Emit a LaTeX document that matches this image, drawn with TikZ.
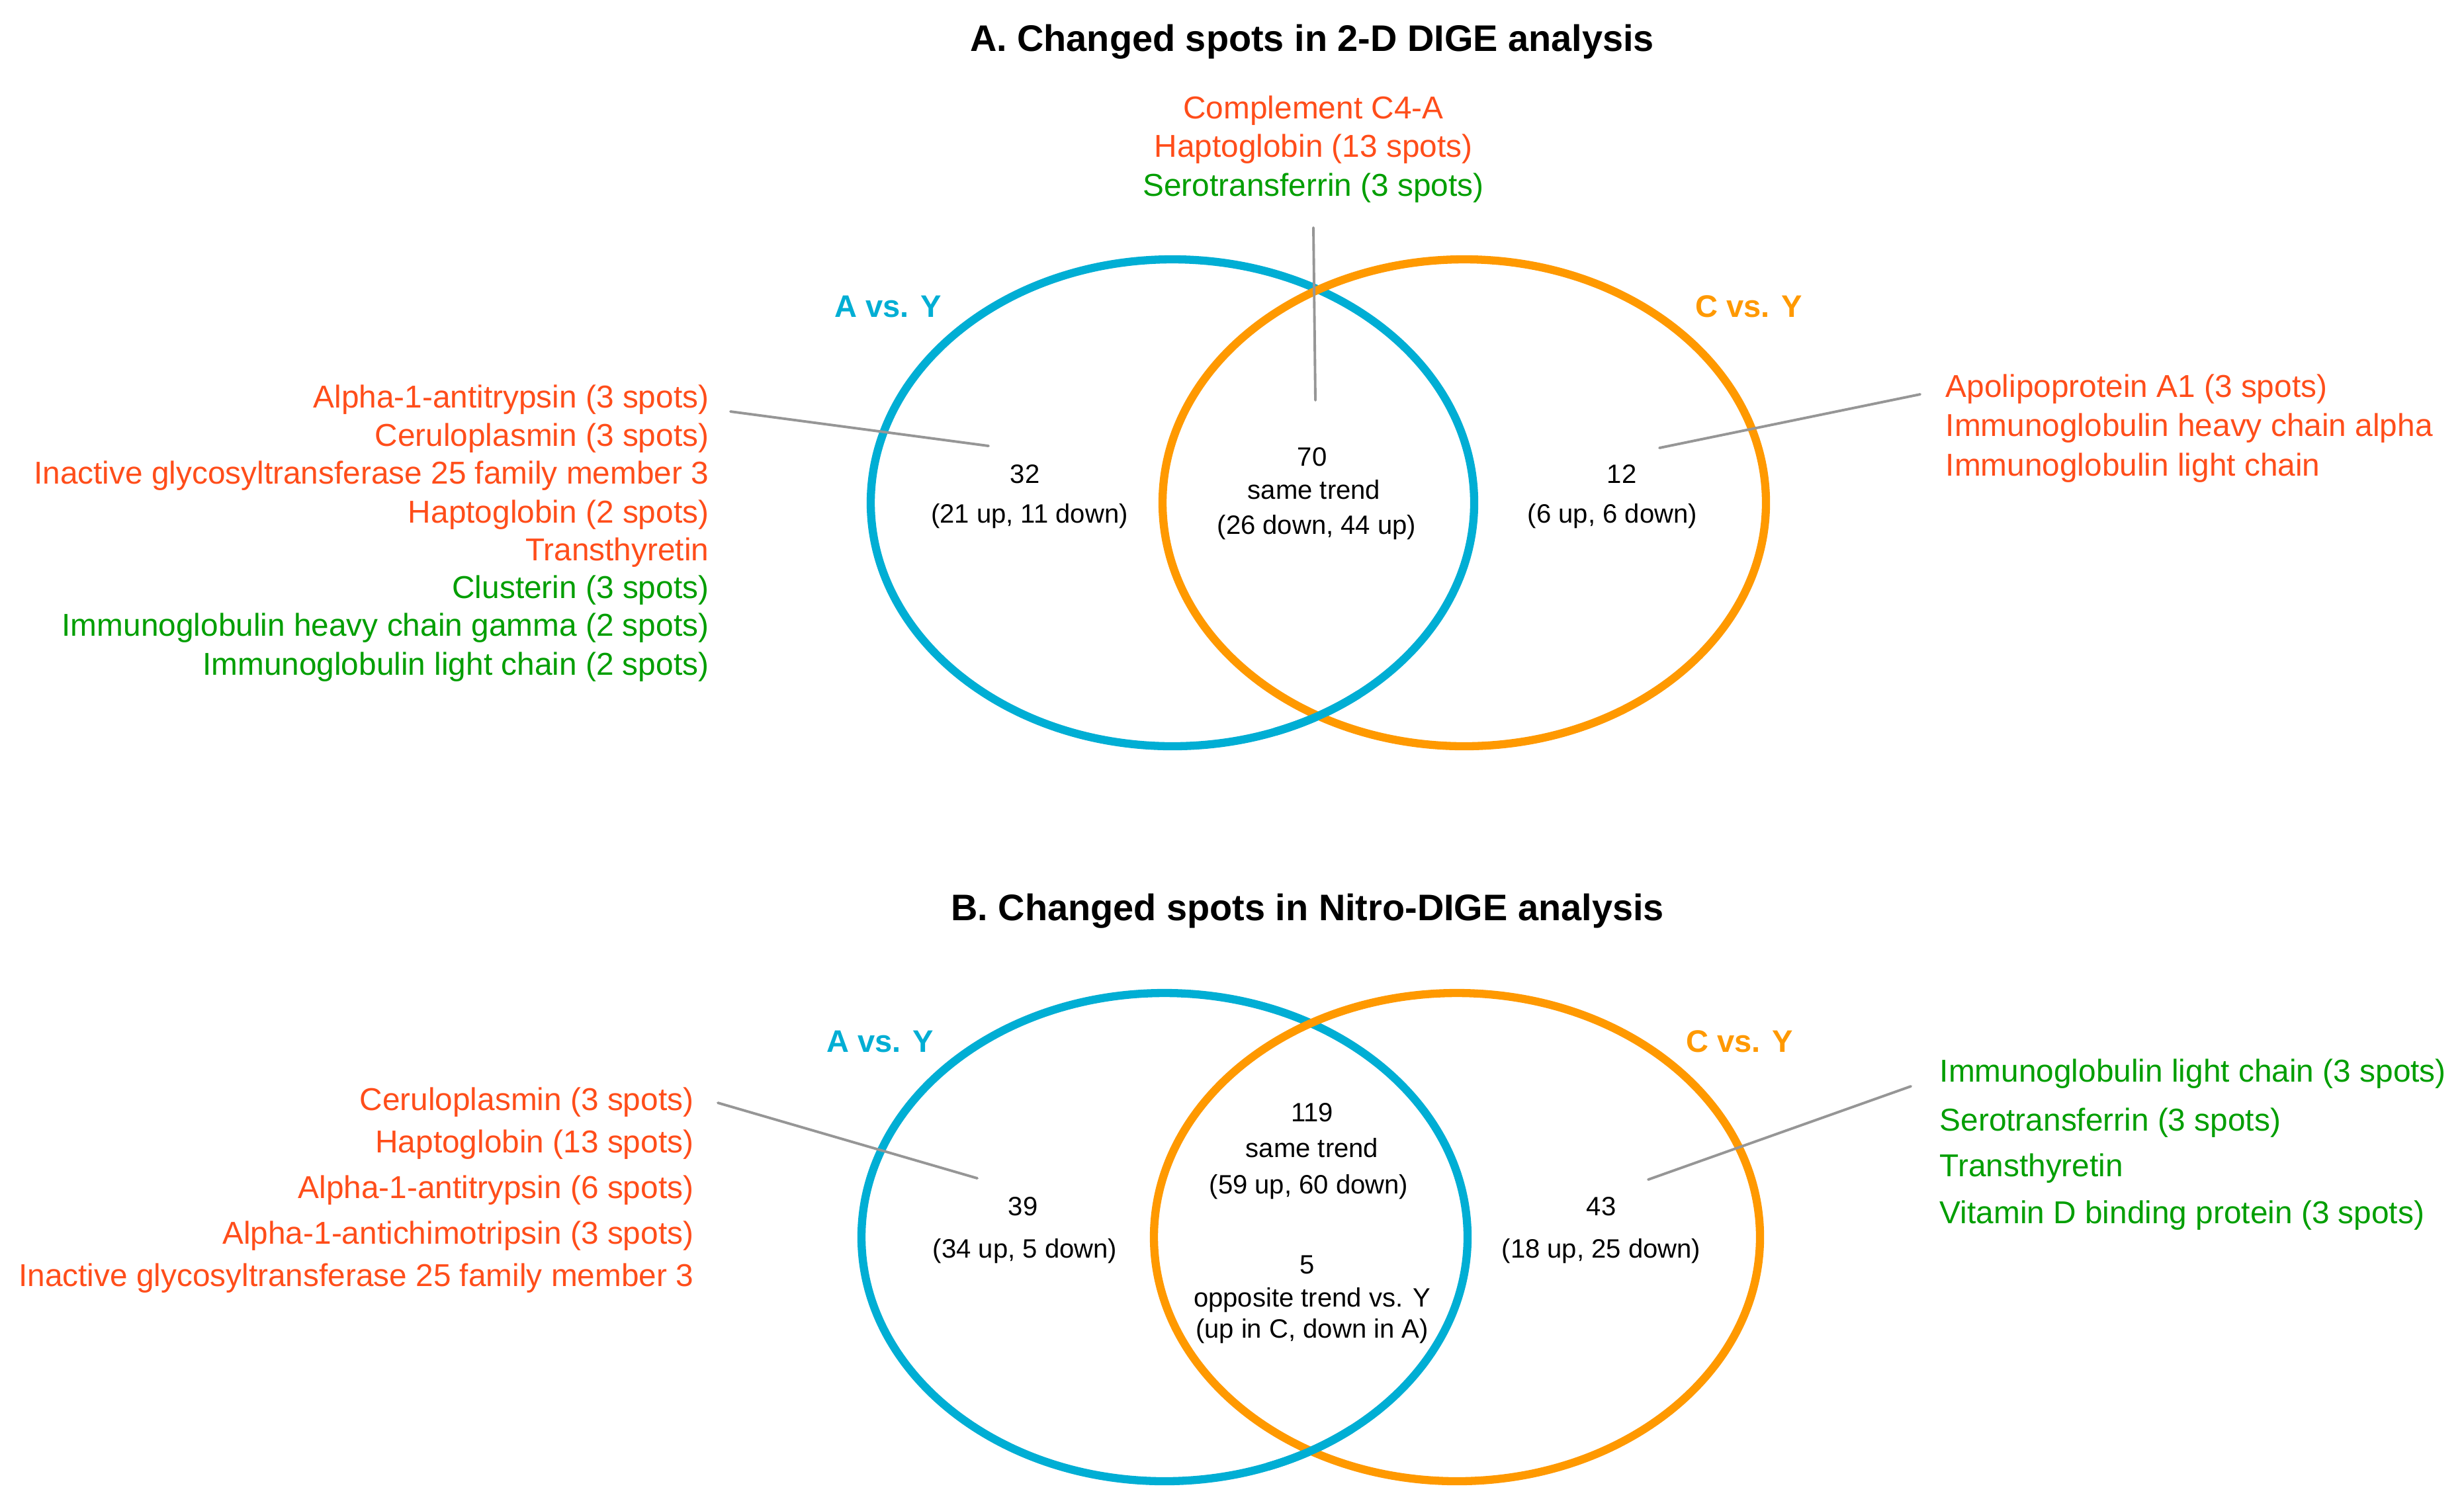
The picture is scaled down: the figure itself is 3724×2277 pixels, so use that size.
\documentclass[tikz,border=0pt]{standalone}
\usepackage{fontspec}
\setmainfont{Liberation Sans}
\definecolor{vennblue}{RGB}{0,174,212}
\definecolor{vennorange}{RGB}{255,153,0}
\definecolor{protred}{RGB}{255,77,26}
\definecolor{protgreen}{RGB}{0,158,0}
\definecolor{leadgrey}{RGB}{150,150,150}
\begin{document}
\begin{tikzpicture}[x=0.1mm,y=-0.1mm,line cap=round,
	every node/.style={text height=1.5ex,text depth=0.25ex,inner sep=0,yshift=-2pt},
	protR/.style={text=protred,font=\fontsize{13.6}{16}\selectfont},
	protG/.style={text=protgreen,font=\fontsize{13.6}{16}\selectfont},
	count/.style={font=\fontsize{11.4}{14}\selectfont},
	ttl/.style={font=\bfseries\fontsize{15.9}{19}\selectfont},
	setA/.style={text=vennblue,font=\bfseries\fontsize{13.4}{16}\selectfont},
	setC/.style={text=vennorange,font=\bfseries\fontsize{13.4}{16}\selectfont},
	ringA/.style={draw=vennblue,line width=3.5pt},
	ringC/.style={draw=vennorange,line width=3.5pt},
	lead/.style={draw=leadgrey,line width=1.1pt}]
	\path[fill=white] (0,0) rectangle (3724,2277);
	% A. 2-D DIGE
	\node[ttl] (ttlA) at (1983,59) {A. Changed spots in 2-D DIGE analysis};
	\draw[ringA] (1772,760) ellipse [x radius=456,y radius=368];
	\draw[ringC] (2213,760) ellipse [x radius=456,y radius=368];
	\draw[ringA] (1772,760) ++(52:456 and 368) arc[start angle=52,end angle=70,x radius=456,y radius=368];
	\node[setA] (AvsY1) at (1342,461) {A vs. Y};
	\node[setC] (CvsY1) at (2643,461) {C vs. Y};
	\node[protR] (a00) at (1985,161) {Complement C4-A};
	\node[protR] (a01) at (1985,219) {Haptoglobin (13 spots)};
	\node[protG] (a02) at (1985,278) {Serotransferrin (3 spots)};
	\node[protR,anchor=east] (a10) at (1072,598) {Alpha-1-antitrypsin (3 spots)};
	\node[protR,anchor=east] (a11) at (1072,656) {Ceruloplasmin (3 spots)};
	\node[protR,anchor=east] (a12) at (1072,713) {Inactive glycosyltransferase 25 family member 3};
	\node[protR,anchor=east] (a13) at (1072,772) {Haptoglobin (2 spots)};
	\node[protR,anchor=east] (a14) at (1072,829) {Transthyretin};
	\node[protG,anchor=east] (a15) at (1072,886) {Clusterin (3 spots)};
	\node[protG,anchor=east] (a16) at (1072,943) {Immunoglobulin heavy chain gamma (2 spots)};
	\node[protG,anchor=east] (a17) at (1072,1002) {Immunoglobulin light chain (2 spots)};
	\node[protR,anchor=west] (a20) at (2940,582) {Apolipoprotein A1 (3 spots)};
	\node[protR,anchor=west] (a21) at (2940,641) {Immunoglobulin heavy chain alpha};
	\node[protR,anchor=west] (a22) at (2940,701) {Immunoglobulin light chain};
	\node[count] (nA1) at (1549,712) {32};
	\node[count] (dA1) at (1556,772) {(21 up, 11 down)};
	\node[count] (nAC1) at (1983,686) {70};
	\node[count] (tAC1) at (1986,736) {same trend};
	\node[count] (dAC1) at (1990,789) {(26 down, 44 up)};
	\node[count] (nC1) at (2451,712) {12};
	\node[count] (dC1) at (2437,772) {(6 up, 6 down)};
	\coordinate (lA1s) at (1104,615);
	\coordinate (lA1e) at (1494,667);
	\coordinate (lAC1s) at (1985,337);
	\coordinate (lAC1e) at (1988,598);
	\coordinate (lC1s) at (2902,589);
	\coordinate (lC1e) at (2508,670);
	\draw[lead] (lA1s) -- (lA1e);
	\draw[lead] (lAC1s) -- (lAC1e);
	\draw[lead] (lC1s) -- (lC1e);
	% B. Nitro-DIGE
	\node[ttl] (ttlB) at (1976,1373) {B. Changed spots in Nitro-DIGE analysis};
	\draw[ringA] (1760,1870) ellipse [x radius=458,y radius=369];
	\draw[ringC] (2202,1870) ellipse [x radius=458,y radius=369];
	\draw[ringA] (1760,1870) ++(52:458 and 369) arc[start angle=52,end angle=70,x radius=458,y radius=369];
	\node[setA] (AvsY2) at (1330,1572) {A vs. Y};
	\node[setC] (CvsY2) at (2629,1572) {C vs. Y};
	\node[protR,anchor=east] (b10) at (1049,1660) {Ceruloplasmin (3 spots)};
	\node[protR,anchor=east] (b11) at (1049,1724) {Haptoglobin (13 spots)};
	\node[protR,anchor=east] (b12) at (1049,1793) {Alpha-1-antitrypsin (6 spots)};
	\node[protR,anchor=east] (b13) at (1049,1862) {Alpha-1-antichimotripsin (3 spots)};
	\node[protR,anchor=east] (b14) at (1049,1926) {Inactive glycosyltransferase 25 family member 3};
	\node[protG,anchor=west] (b20) at (2931,1617) {Immunoglobulin light chain (3 spots)};
	\node[protG,anchor=west] (b21) at (2931,1691) {Serotransferrin (3 spots)};
	\node[protG,anchor=west] (b22) at (2931,1760) {Transthyretin};
	\node[protG,anchor=west] (b23) at (2931,1831) {Vitamin D binding protein (3 spots)};
	\node[count] (nA2) at (1546,1819) {39};
	\node[count] (dA2) at (1549,1883) {(34 up, 5 down)};
	\node[count] (nAC2) at (1983,1677) {119};
	\node[count] (tAC2) at (1983,1731) {same trend};
	\node[count] (dAC2) at (1978,1786) {(59 up, 60 down)};
	\node[count] (nopp) at (1976,1907) {5};
	\node[count] (topp) at (1983,1957) {opposite trend vs. Y};
	\node[count] (dopp) at (1983,2004) {(up in C, down in A)};
	\node[count] (nC2) at (2420,1819) {43};
	\node[count] (dC2) at (2420,1883) {(18 up, 25 down)};
	\coordinate (lA2s) at (1085,1660);
	\coordinate (lA2e) at (1477,1774);
	\coordinate (lC2s) at (2888,1635);
	\coordinate (lC2e) at (2491,1776);
	\draw[lead] (lA2s) -- (lA2e);
	\draw[lead] (lC2s) -- (lC2e);
\end{tikzpicture}
\end{document}
